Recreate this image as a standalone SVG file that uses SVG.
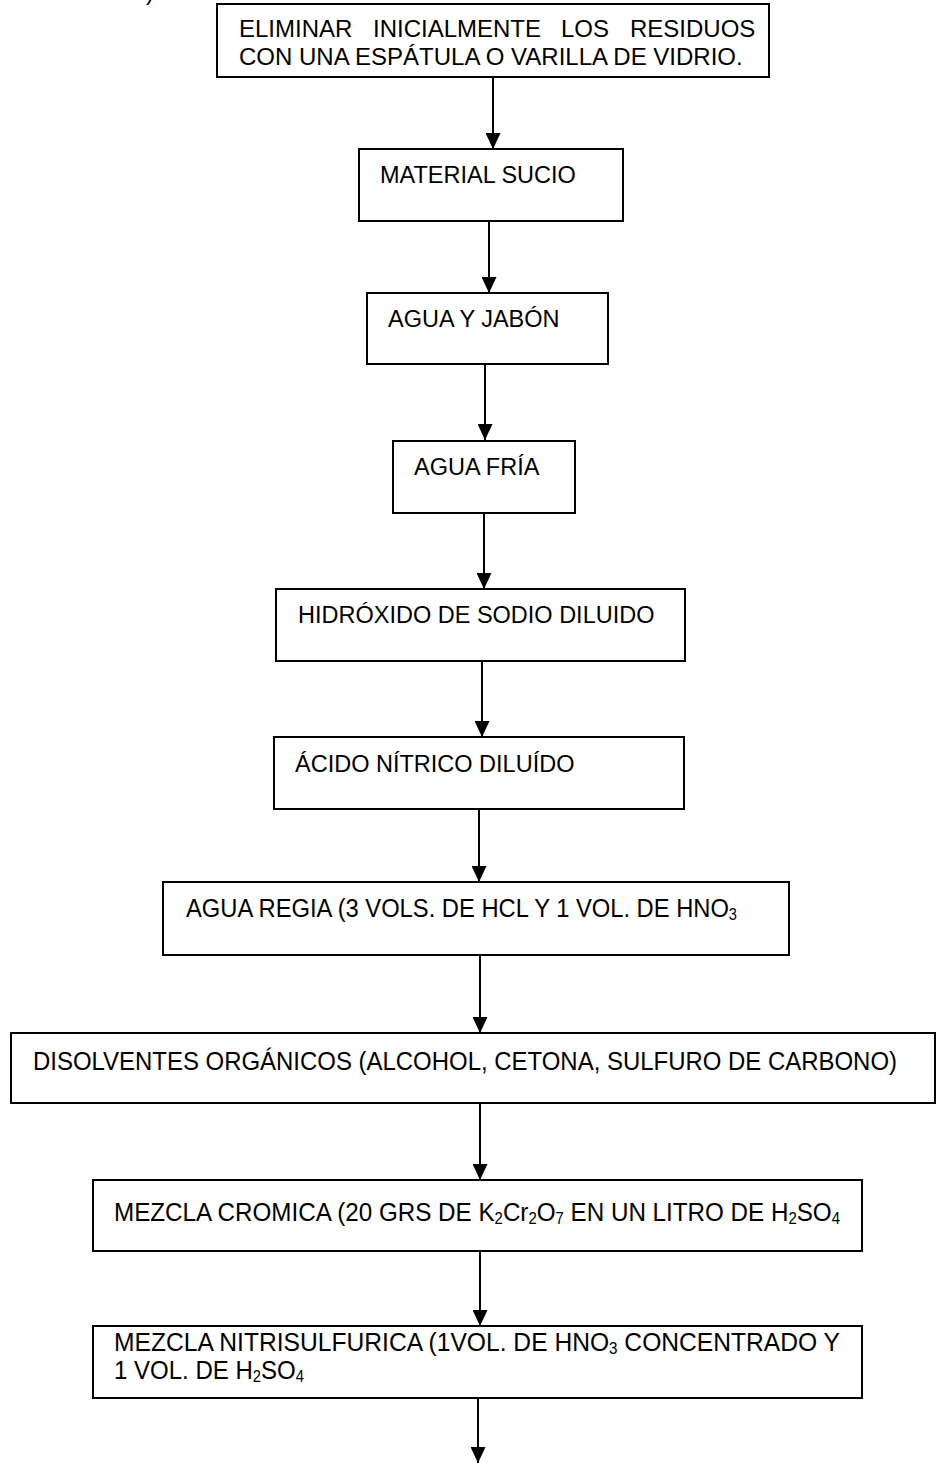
<svg xmlns="http://www.w3.org/2000/svg" width="937" height="1463" viewBox="0 0 937 1463">
  <style>
    .box { fill: #ffffff; stroke: #000000; stroke-width: 2; }
    .lbl { font-family: "Liberation Sans", Arial, sans-serif; font-size: 23.5px; fill: #000000; }
    .big { font-size: 24px; }
    .nar { font-family: "Liberation Sans", Arial, sans-serif; font-size: 26px; fill: #000000; }
    .edge { stroke: #000000; stroke-width: 2; fill: none; marker-end: url(#head); }
  </style>
  <defs>
    <marker id="head" markerUnits="userSpaceOnUse" markerWidth="16" markerHeight="15" refX="16" refY="7.5" orient="auto">
      <path d="M0,0 L16,7.5 L0,15 z" fill="#000000"/>
    </marker>
  </defs>
  <rect width="937" height="1463" fill="#ffffff"/>

  <!-- fragment of preceding text, cut by the page top -->
  <text class="lbl" x="146" y="0">)</text>

  <g id="connectors">
    <line class="edge" x1="493" y1="77" x2="493" y2="149"/>
    <line class="edge" x1="489" y1="221" x2="489" y2="293"/>
    <line class="edge" x1="485" y1="364" x2="485" y2="440"/>
    <line class="edge" x1="484" y1="513" x2="484" y2="589"/>
    <line class="edge" x1="482" y1="661" x2="482" y2="737"/>
    <line class="edge" x1="479" y1="809" x2="479" y2="882"/>
    <line class="edge" x1="480" y1="955" x2="480" y2="1033"/>
    <line class="edge" x1="480" y1="1103" x2="480" y2="1180"/>
    <line class="edge" x1="480" y1="1251" x2="480" y2="1326"/>
    <line class="edge" x1="478" y1="1398" x2="478" y2="1463"/>
  </g>

  <g id="n1">
    <rect class="box" x="217" y="4" width="552" height="73"/>
    <!-- justified first line: words placed individually -->
    <text class="lbl big" y="37"><tspan x="239">ELIMINAR</tspan><tspan x="373">INICIALMENTE</tspan><tspan x="561">LOS</tspan><tspan x="630">RESIDUOS</tspan></text>
    <text class="lbl big" x="239" y="65">CON UNA ESPÁTULA O VARILLA DE VIDRIO.</text>
  </g>

  <g id="n2">
    <rect class="box" x="359" y="149" width="264" height="72"/>
    <text class="lbl" x="380" y="183">MATERIAL SUCIO</text>
  </g>

  <g id="n3">
    <rect class="box" x="367" y="293" width="241" height="71"/>
    <text class="lbl" x="388" y="327">AGUA Y JABÓN</text>
  </g>

  <g id="n4">
    <rect class="box" x="393" y="441" width="182" height="72"/>
    <text class="lbl" x="414" y="475">AGUA FRÍA</text>
  </g>

  <g id="n5">
    <rect class="box" x="276" y="589" width="409" height="72"/>
    <text class="lbl" x="298" y="623">HIDRÓXIDO DE SODIO DILUIDO</text>
  </g>

  <g id="n6">
    <rect class="box" x="274" y="737" width="410" height="72"/>
    <text class="lbl" x="295" y="772">ÁCIDO NÍTRICO DILUÍDO</text>
  </g>

  <g id="n7">
    <rect class="box" x="163" y="882" width="626" height="73"/>
    <text class="nar" x="186" y="917" textLength="551" lengthAdjust="spacingAndGlyphs">AGUA REGIA (3 VOLS. DE HCL Y 1 VOL. DE HNO<tspan font-size="16" dy="3">3</tspan></text>
  </g>

  <g id="n8">
    <rect class="box" x="11" y="1033" width="924" height="70"/>
    <text class="nar" x="33" y="1070" textLength="864" lengthAdjust="spacingAndGlyphs">DISOLVENTES ORGÁNICOS (ALCOHOL, CETONA, SULFURO DE CARBONO)</text>
  </g>

  <g id="n9">
    <rect class="box" x="93" y="1180" width="769" height="71"/>
    <text class="nar" x="114" y="1221" textLength="726" lengthAdjust="spacingAndGlyphs">MEZCLA CROMICA (20 GRS DE K<tspan font-size="16" dy="3">2</tspan><tspan dy="-3">Cr</tspan><tspan font-size="16" dy="3">2</tspan><tspan dy="-3">O</tspan><tspan font-size="16" dy="3">7</tspan><tspan dy="-3"> EN UN LITRO DE H</tspan><tspan font-size="16" dy="3">2</tspan><tspan dy="-3">SO</tspan><tspan font-size="16" dy="3">4</tspan></text>
  </g>

  <g id="n10">
    <rect class="box" x="93" y="1326" width="769" height="72"/>
    <text class="nar" x="114" y="1351" textLength="726" lengthAdjust="spacingAndGlyphs">MEZCLA NITRISULFURICA (1VOL. DE HNO<tspan font-size="16" dy="3">3</tspan><tspan dy="-3"> CONCENTRADO Y</tspan></text>
    <text class="nar" x="114" y="1379" textLength="190" lengthAdjust="spacingAndGlyphs">1 VOL. DE H<tspan font-size="16" dy="3">2</tspan><tspan dy="-3">SO</tspan><tspan font-size="16" dy="3">4</tspan></text>
  </g>
</svg>
